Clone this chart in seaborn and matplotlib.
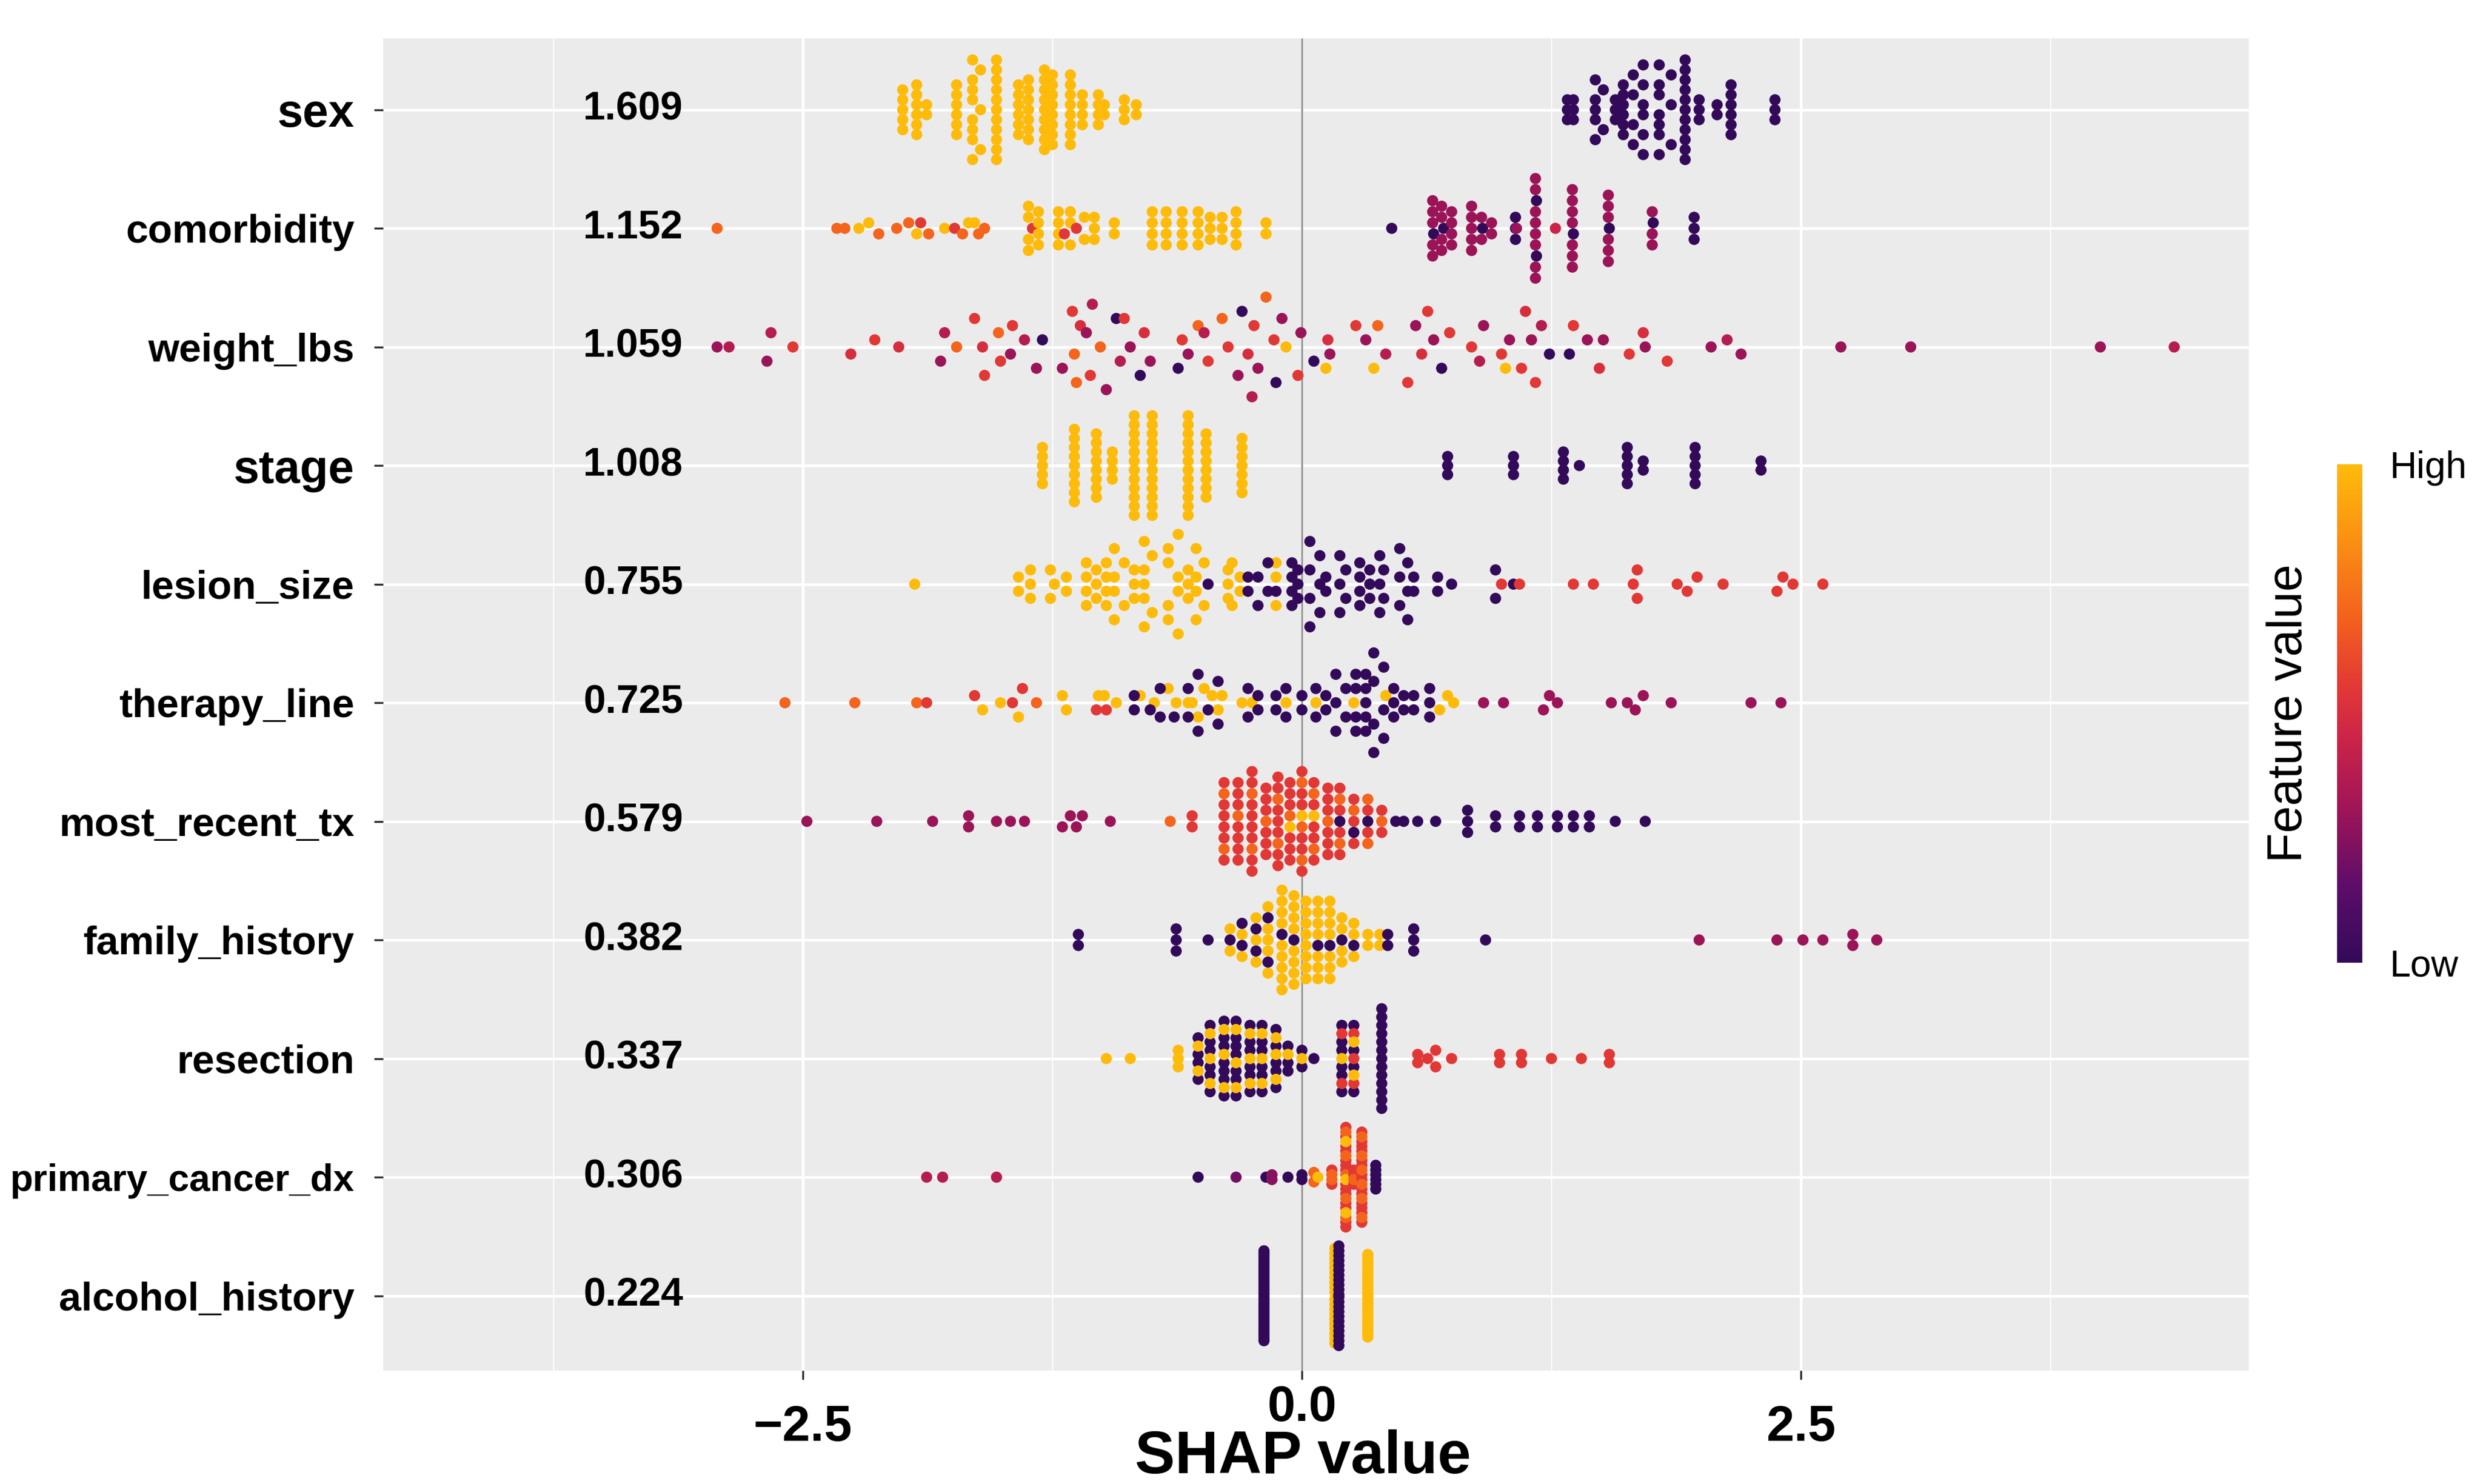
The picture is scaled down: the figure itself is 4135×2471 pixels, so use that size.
import numpy as np
import pandas as pd
import matplotlib
matplotlib.use("Agg")
import matplotlib.pyplot as plt
import seaborn as sns
from matplotlib.colors import LinearSegmentedColormap, Normalize
from matplotlib.cm import ScalarMappable
from matplotlib.transforms import ScaledTranslation

# feature-value colour levels (0 = low, 1 = high)
P, M, R, O, Y = 0.0, 0.30, 0.55, 0.70, 1.0

features = ["sex", "comorbidity", "weight_lbs", "stage", "lesion_size", "therapy_line",
            "most_recent_tx", "family_history", "resection", "primary_cancer_dx", "alcohol_history"]
mean_abs_shap = [1.609, 1.152, 1.059, 1.008, 0.755, 0.725, 0.579, 0.382, 0.337, 0.306, 0.224]
label_sizes = [18.5, 16, 16, 18.5, 16, 16, 16, 16, 16, 15, 16]

# SHAP values per feature: x = shap value, n = dots stacked at that value, v = feature value
sex_x = [-2.00, -1.93, -1.88, -1.73, -1.65, -1.61, -1.53, -1.42, -1.37, -1.29, -1.25, -1.16, -1.10,
         -1.02, -0.99, -0.89, -0.83,
         1.33, 1.36, 1.47, 1.51, 1.57, 1.61, 1.66, 1.71, 1.79, 1.85, 1.92, 1.99, 2.08, 2.15, 2.37]
sex_n = [5, 6, 2, 6, 8, 3, 11, 6, 7, 9, 8, 8, 4, 4, 2, 3, 2,
         3, 3, 5, 2, 3, 6, 4, 6, 7, 3, 11, 3, 2, 6, 3]
sex_v = [Y] * 17 + [P] * 15

comorb_x = [-2.93, -2.33, -2.29, -2.22, -2.17, -2.12, -2.03, -1.97, -1.93, -1.91, -1.87, -1.79, -1.74,
            -1.70, -1.67, -1.64, -1.62, -1.59,
            -1.37, -1.35, -1.32, -1.22, -1.19, -1.16, -1.13, -1.09, -1.04, -0.94,
            -0.75, -0.68, -0.60, -0.52, -0.46, -0.40, -0.33, -0.18,
            0.45, 0.655, 0.66, 0.70, 0.71, 0.75, 0.85, 0.90, 0.905, 0.95, 1.07, 1.075, 1.17, 1.175,
            1.27, 1.355, 1.36, 1.535, 1.54, 1.755, 1.76, 1.965]
comorb_n = [1] * 18 + [4, 1, 4, 4, 1, 3, 1, 2, 3, 2] + [4, 4, 4, 4, 3, 3, 4, 2] + \
           [1, 5, 1, 4, 1, 4, 5, 2, 1, 2, 3, 1, 8, 2, 1, 7, 1, 6, 1, 3, 1, 3]
comorb_v = [O, O, O, Y, Y, O, O, O, Y, R, O, Y, R, O, Y, Y, O, O,
            Y, R, Y, Y, R, Y, R, Y, Y, Y,
            Y, Y, Y, Y, Y, Y, Y, Y,
            P, M, P, M, P, M, M, M, P, M, P, M, M, P, 0.45, M, P, M, P, M, P, P]

weight_x = [-2.93, -2.87, -2.68, -2.66, -2.55, -2.26, -2.14, -2.02, -1.81, -1.79,
            -1.73, -1.64, -1.60, -1.59, -1.52, -1.51, -1.46, -1.45, -1.39, -1.33, -1.30,
            -1.20, -1.15, -1.14, -1.13, -1.11, -1.08, -1.06, -1.05,
            -1.01, -0.98, -0.93, -0.91, -0.89, -0.86, -0.81, -0.79, -0.76,
            -0.62, -0.60, -0.57, -0.52, -0.49, -0.47,
            -0.40, -0.37, -0.32, -0.30, -0.27, -0.25, -0.24, -0.22,
            -0.18, -0.14, -0.13, -0.10, -0.08,
            -0.02, -0.005, 0.06, 0.12, 0.13, 0.14,
            0.27, 0.32, 0.36, 0.38, 0.42,
            0.53, 0.57, 0.60, 0.63, 0.66, 0.70, 0.74,
            0.85, 0.89, 0.91, 1.00, 1.02, 1.04,
            1.10, 1.12, 1.15, 1.17, 1.20, 1.24,
            1.34, 1.36, 1.43, 1.49, 1.51,
            1.64, 1.71, 1.72, 1.83, 2.05, 2.13, 2.20, 2.70, 3.05, 4.00, 4.37]
weight_v = [M, 0.38, M, 0.38, R, 0.5, R, 0.5, M, 0.38,
            O, R, 0.5, R, O, R, M, R, 0.38, M, P,
            M, R, O, O, 0.5, M, R, 0.38,
            O, M, P, 0.38, R, M, P, 0.5, M,
            P, R, M, O, 0.38, R,
            O, R, M, P, 0.5, 0.38, R, M,
            O, R, P, M, Y,
            R, M, P, Y, 0.5, M,
            R, M, Y, O, 0.38,
            R, M, 0.5, R, M, P, R,
            R, 0.38, M, R, Y, M,
            R, 0.5, M, R, 0.38, P,
            P, R, M, 0.5, M,
            R, 0.5, M, R, M, 0.38, M, M, M, M, 0.38]

stage_x = [-1.30, -1.14, -1.03, -0.95, -0.84, -0.75, -0.57, -0.48, -0.30,
           0.73, 1.06, 1.31, 1.39, 1.63, 1.71, 1.97, 2.30]
stage_n = [5, 9, 8, 4, 12, 12, 12, 8, 7, 3, 3, 4, 1, 5, 2, 5, 2]
stage_v = [Y] * 9 + [P] * 8

lesion_x = [-1.94, -1.42, -1.36, -1.26, -1.24, -1.18, -1.08, -1.03, -0.98, -0.94, -0.89, -0.84,
            -0.79, -0.75, -0.67, -0.62, -0.57, -0.53, -0.49, -0.37, -0.35, -0.31, -0.13,
            -0.47, -0.27, -0.22, -0.17, -0.13, -0.05, -0.02, 0.04, 0.09, 0.12, 0.19, 0.22,
            0.29, 0.34, 0.39, 0.41, 0.49, 0.53, 0.56, 0.68, 0.75, 0.97, 1.06,
            1.00, 1.09, 1.36, 1.46, 1.66, 1.68, 1.88, 1.93, 1.98, 2.11, 2.38, 2.41, 2.46, 2.61]
lesion_n = [1, 2, 3, 2, 1, 2, 4, 3, 4, 4, 2, 3, 5, 2, 4, 4, 3, 4, 2, 3, 2, 2, 3,
            1, 2, 2, 2, 1, 4, 3, 4, 3, 2, 3, 2, 4, 3, 3, 2, 3, 3, 2, 2, 1, 2, 1,
            1, 1, 1, 1, 1, 2, 1, 1, 1, 1, 1, 1, 1, 1]
lesion_v = [Y] * 23 + [P] * 23 + [R] * 14

therapy_x = [-2.59, -2.24, -1.93, -1.88, -1.64, -1.60, -1.51, -1.45, -1.42, -1.40, -1.33, -1.20,
             -1.18, -1.03, -1.02, -0.99, -0.98, -0.93,
             -0.81, -0.74, -0.67, -0.63, -0.57, -0.55, -0.52, -0.49, -0.45, -0.42, -0.40, -0.30,
             -0.25, -0.08, 0.07, 0.26, 0.42, 0.69, 0.73, 0.76,
             -0.84, -0.76, -0.71, -0.64, -0.57, -0.52, -0.47, -0.42, -0.27, -0.22, -0.13, -0.08,
             0.00, 0.07, 0.12, 0.17, 0.22, 0.27, 0.32, 0.36, 0.41, 0.46, 0.51, 0.56, 0.64,
             0.91, 1.01, 1.21, 1.24, 1.28, 1.55, 1.63, 1.67, 1.71, 1.85, 2.25, 2.40]
therapy_n = [1] * 18 + [1] * 20 + \
            [2, 1, 2, 1, 2, 2, 1, 2, 2, 2, 2, 2, 2, 2, 2, 3, 2, 4, 5, 4, 3, 3, 2, 2, 3] + [1] * 12
therapy_v = [O, O, O, R, R, Y, Y, R, Y, R, O, Y, Y, R, Y, Y, R, Y] + [Y] * 20 + [P] * 25 + [M] * 12

recent_x = [-2.48, -2.13, -1.85, -1.67, -1.53, -1.46, -1.39, -1.20, -1.16, -1.13, -1.10, -0.96,
            -0.66, -0.55,
            -0.39, -0.39, -0.32, -0.32, -0.25, -0.25, -0.18, -0.18, -0.12, -0.12,
            -0.06, -0.06, -0.06, 0.00, 0.00, 0.00, 0.06, 0.06, 0.06, 0.13, 0.13,
            0.19, 0.19, 0.19, 0.26, 0.26, 0.26, 0.33, 0.33, 0.33, 0.40, 0.40,
            0.47, 0.51, 0.58, 0.67, 0.83, 0.97, 1.09, 1.18, 1.28, 1.36, 1.44, 1.57, 1.72]
recent_n = [1, 1, 1, 2, 1, 1, 1, 1, 1, 1, 1, 1,
            1, 2,
            6, 2, 7, 1, 8, 2, 6, 1, 7, 2,
            6, 1, 1, 6, 3, 1, 5, 2, 1, 6, 1,
            4, 2, 1, 3, 1, 1, 2, 2, 1, 2, 1,
            1, 1, 1, 1, 3, 2, 2, 2, 2, 2, 2, 1, 1]
recent_v = [M] * 12 + [O, R] + \
           [R, O, R, O, R, O, R, O, R, O,
            R, O, Y, R, O, Y, R, O, Y, R, O,
            R, O, P, R, O, P, R, O, P, R, O] + [P] * 13

family_x = [-1.12, -0.63, -0.47,
            -0.36, -0.36, -0.30, -0.30, -0.23, -0.23, -0.17, -0.17, -0.10, -0.10, -0.04, -0.04,
            0.02, 0.08, 0.08, 0.14, 0.14, 0.20, 0.20, 0.26, 0.26, 0.33, 0.39,
            0.43, 0.56, 0.92,
            1.99, 2.38, 2.51, 2.61, 2.76, 2.88]
family_n = [2, 3, 1,
            2, 1, 2, 2, 3, 2, 5, 2, 9, 1, 8, 1,
            8, 7, 1, 7, 1, 4, 1, 3, 1, 2, 2,
            2, 3, 1,
            1, 1, 1, 1, 2, 1]
family_v = [P, P, P,
            Y, P, Y, P, Y, P, Y, P, Y, P, Y, P,
            Y, Y, P, Y, P, Y, P, Y, P, Y, Y,
            P, P, P,
            M, M, M, M, M, M]

resect_x = [-0.98, -0.86, -0.62,
            -0.52, -0.52, -0.46, -0.46, -0.39, -0.39, -0.33, -0.33, -0.26, -0.26, -0.20, -0.20,
            -0.13, -0.13, -0.07, -0.07, 0.00, 0.00, 0.06,
            0.20, 0.20, 0.20, 0.26, 0.26, 0.26, 0.40,
            0.58, 0.63, 0.67, 0.75, 0.99, 1.10, 1.25, 1.40, 1.54]
resect_n = [1, 1, 3,
            4, 2, 6, 3, 7, 3, 7, 3, 6, 3, 6, 3,
            5, 3, 3, 1, 2, 1, 1,
            6, 2, 1, 4, 3, 2, 13,
            2, 1, 2, 1, 2, 2, 1, 1, 2]
resect_v = [Y, Y, Y,
            P, Y, P, Y, P, Y, P, Y, P, Y, P, Y,
            P, Y, P, Y, P, Y, P,
            P, R, Y, P, R, Y, P] + [R] * 9

primary_x = [-1.88, -1.80, -1.53, -0.52, -0.33, -0.18, -0.15, -0.07, 0.00, 0.06, 0.08,
             0.15, 0.15, 0.22, 0.22, 0.22, 0.26, 0.26, 0.30, 0.30, 0.37]
primary_n = [1, 1, 1, 1, 1, 1, 2, 1, 2, 2, 1,
             2, 2, 14, 5, 3, 3, 1, 14, 6, 6]
primary_v = [0.38, 0.38, 0.38, P, 0.2, P, 0.25, P, P, O, Y,
             R, O, R, O, Y, R, O, R, O, P]

alcohol_x = [-0.19, 0.165, 0.185, 0.33]
alcohol_n = [38, 20, 22, 35]
alcohol_v = [P, Y, P, Y]

rows = [(sex_x, sex_n, sex_v), (comorb_x, comorb_n, comorb_v), (weight_x, None, weight_v),
        (stage_x, stage_n, stage_v), (lesion_x, lesion_n, lesion_v), (therapy_x, therapy_n, therapy_v),
        (recent_x, recent_n, recent_v), (family_x, family_n, family_v), (resect_x, resect_n, resect_v),
        (primary_x, primary_n, primary_v), (alcohol_x, alcohol_n, alcohol_v)]
# width of the x bins in which dots are stacked (weight_lbs is sparse, so wider bins)
bin_widths = [0.065, 0.065, 0.2, 0.065, 0.065, 0.065, 0.065, 0.065, 0.065, 0.065, 0.065]


def bee_offsets(x, key, width=0.42, bin_w=0.065):
    # stack the dots of each x bin symmetrically, then scale the row to the band width
    q = np.round(x / bin_w).astype(int)
    ys = np.zeros(len(x))
    for b in np.unique(q):
        idx = np.where(q == b)[0]
        idx = idx[np.argsort(key[idx], kind="stable")]
        ys[idx] = np.arange(len(idx)) - (len(idx) - 1) / 2
    top = np.abs(ys).max()
    return ys * (width / top) if top > 0 else ys


frames = []
for i, (xs, ns, vs) in enumerate(rows):
    if ns is None:
        ns = [1] * len(xs)
    if not (len(xs) == len(ns) == len(vs)):
        raise ValueError(f"{features[i]}: {len(xs)} {len(ns)} {len(vs)}")
    x = np.repeat(xs, ns).astype(float)
    v = np.repeat(vs, ns).astype(float)
    frac = np.concatenate([(np.arange(n) + 0.5) / n for n in ns])
    key = frac + 1e-4 * ((np.arange(len(x)) * 37) % 101)
    frames.append(pd.DataFrame({"feature": features[i], "shap": x, "fval": v,
                                "ypos": i + bee_offsets(x, key, bin_w=bin_widths[i])}))
df = pd.concat(frames, ignore_index=True)

cmap = LinearSegmentedColormap.from_list("fv", [
    (0.00, "#330a5a"), (0.15, "#5c0d6a"), (0.30, "#9c1458"), (0.45, "#cc2448"),
    (0.57, "#e53c32"), (0.70, "#f4631c"), (0.85, "#fa9012"), (1.00, "#ffbb0a")])

sns.set_theme(style="white")
plt.rcParams["font.family"] = ["Liberation Sans", "DejaVu Sans"]
plt.rcParams["text.color"] = "black"
plt.rcParams["axes.labelcolor"] = "black"
plt.rcParams["xtick.color"] = "black"
plt.rcParams["ytick.color"] = "black"

fig = plt.figure(figsize=(4135 / 300, 2471 / 300), dpi=300)
ax = fig.add_axes([0.1543, 0.0765, 0.7514, 0.8975])
ax.set_facecolor("#EBEBEB")

sns.scatterplot(data=df, x="shap", y="ypos", hue="fval", palette=cmap, hue_norm=(0, 1),
                s=20, linewidth=0, legend=False, ax=ax, zorder=3)

ax.axvline(0, color="#9a9a9a", lw=0.8, zorder=1.5)
ax.set_xlim(-4.603, 4.744)
ax.set_ylim(10.63, -0.6)
ax.set_xticks([-2.5, 0, 2.5])
ax.set_xticks([-3.75, -1.25, 1.25, 3.75], minor=True)
ax.set_yticks(range(len(features)))
ax.set_yticklabels(features)
ax.grid(which="major", color="white", lw=1.1)
ax.grid(which="minor", axis="x", color="white", lw=0.5)
ax.set_axisbelow(True)
for s in ax.spines.values():
    s.set_visible(False)

ax.tick_params(axis="both", which="major", length=3.5, width=0.8, color="#333333",
               bottom=True, left=True)
ax.tick_params(axis="x", which="minor", length=0)
ax.tick_params(axis="y", pad=8)
ax.tick_params(axis="x", pad=10)

for lab, fs in zip(ax.get_yticklabels(), label_sizes):
    lab.set_fontsize(fs)
    lab.set_fontweight("bold")

for i, m in enumerate(mean_abs_shap):
    ax.text(-3.35, i, f"{m:.3f}", ha="center", va="center", fontsize=16, fontweight="bold")

ax.set_xticklabels(["\u22122.5", "0.0", "2.5"], fontsize=20, fontweight="bold")
ax.set_xlabel("SHAP value", fontsize=24, fontweight="bold", color="black")
ax.xaxis.set_label_coords(0.493, -0.044)
ax.set_ylabel("")

# colour bar
cax = fig.add_axes([0.9412, 0.3513, 0.0102, 0.3359])
sm = ScalarMappable(norm=Normalize(0, 1), cmap=cmap)
cb = fig.colorbar(sm, cax=cax, ticks=[0, 1])
cb.set_ticklabels(["Low", "High"])
cb.outline.set_visible(False)
cax.tick_params(length=0, labelsize=15, pad=11, labelcolor="black")
cb.set_label("Feature value", fontsize=19.5, labelpad=10, color="black")
cax.yaxis.set_label_position("left")

# the 0.0 tick label sits a little higher in the original
zero = ax.get_xticklabels()[1]
zero.set_transform(zero.get_transform() + ScaledTranslation(0, 8 / 72, fig.dpi_scale_trans))

fig.savefig("out.png", dpi=300, facecolor="white")
